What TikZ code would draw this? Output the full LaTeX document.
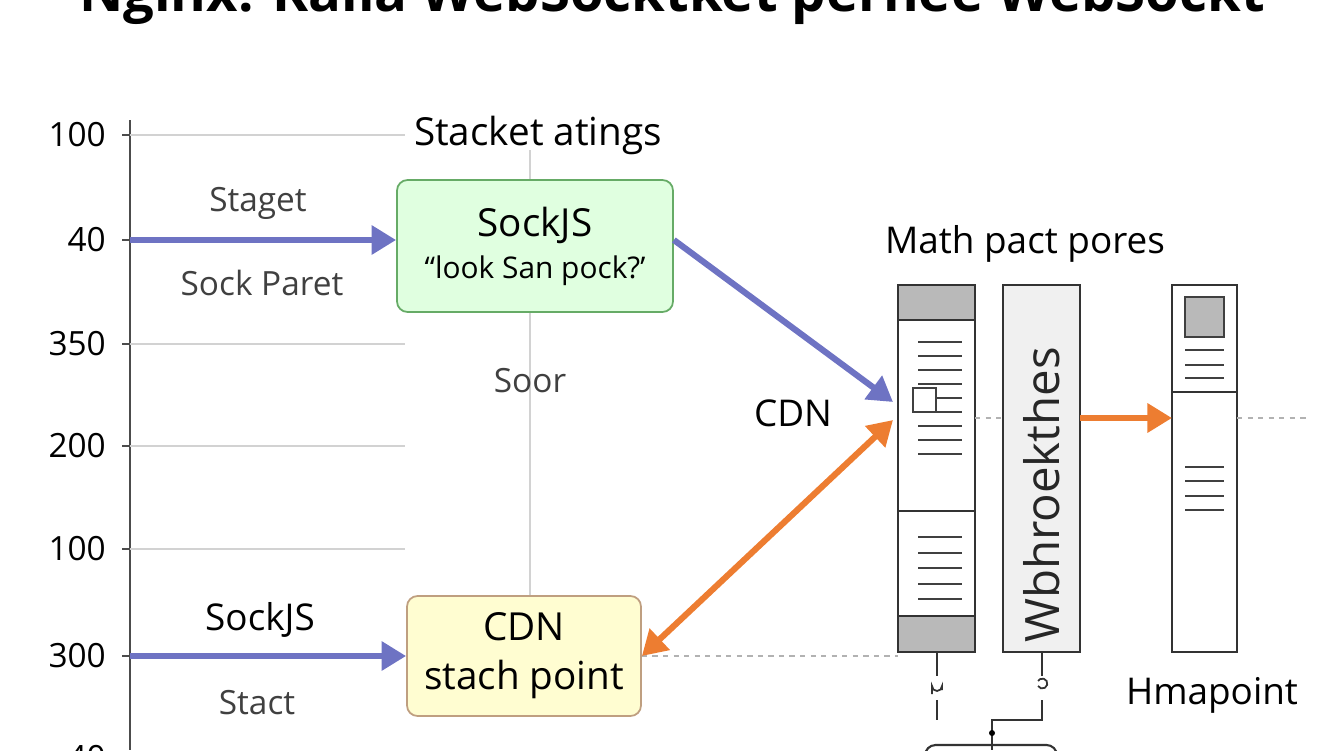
\documentclass[tikz,border=0pt]{standalone}
\usepackage{fontspec}
\setmainfont{Open Sans}
\usetikzlibrary{arrows.meta}
\definecolor{arrblue}{RGB}{110,115,195}
\definecolor{arrorange}{RGB}{237,125,49}
\begin{document}
\begin{tikzpicture}[x=0.02cm,y=-0.02cm,
	grid/.style={gray!35, line width=0.8pt},
	lbl/.style={font=\fontsize{19}{22}\selectfont, text=black!75},
	tick/.style={font=\fontsize{19}{22}\selectfont, anchor=east},
	blue arrow/.style={arrblue, line width=3.5pt, -{Triangle[length=14pt,width=16pt]}},
	orange arrow/.style={arrorange, line width=3.5pt, -{Triangle[length=14pt,width=16pt]}},
	txtline/.style={black!75, line width=1pt},
	col/.style={draw=black!80, line width=1.2pt}]
	\useasboundingbox (0,0) rectangle (1344,750);
	\clip (0,0) rectangle (1344,750);
	
	% Title
	\node[font=\fontsize{31}{36}\selectfont\bfseries, anchor=base] (title) at (672,12) {Nginx: Kalla WebSocktket pernee WebSockt};
	
	% Axis and grid
	\draw[black!70, line width=1pt] (130,120) -- (130,750);
	\foreach \yy/\val in {135/100, 240/40, 344/350, 446/200, 549/100, 656/300, 758/40} {
		\node[tick] at (112,\yy) {\val};
		\draw[black!70, line width=1pt] (122,\yy) -- (130,\yy);
	}
	\foreach \yy in {135, 344, 446, 549} \draw[grid] (130,\yy) -- (405,\yy);
	\draw[grid] (530,150) -- (530,600);
	
	% Labels
	\node[font=\fontsize{22}{26}\selectfont] (head) at (538,135) {Stacket atings};
	\node[lbl] (staget) at (258,203) {Staget};
	\node[lbl] (sockparet) at (262,283) {Sock Paret};
	\node[lbl] (soor) at (530,381) {Soor};
	\node[font=\fontsize{21}{25}\selectfont] (sockjs) at (260,620) {SockJS};
	\node[lbl] (stact) at (257,703) {Stact};
	\node[font=\fontsize{21}{25}\selectfont] (cdn) at (793,413) {CDN};
	\node[font=\fontsize{21}{25}\selectfont] (math) at (1025,244) {Math pact pores};
	\node[font=\fontsize{21}{25}\selectfont] (hmap) at (1212,695) {Hmapoint};
	
	% Boxes
	\node[draw=green!45!black!60, fill=green!12, rounded corners=6pt, line width=1pt,
		minimum width=276*0.02cm, minimum height=132*0.02cm, align=center,
		font=\fontsize{22}{26}\selectfont] (sock) at (535,246)
		{SockJS\\[-2pt]{\fontsize{17}{20}\selectfont “look San pock?’}};
	\node[draw=orange!50!black!50, fill=yellow!18, rounded corners=6pt, line width=1pt,
		minimum width=234*0.02cm, minimum height=120*0.02cm, align=center,
		font=\fontsize{22}{28}\selectfont] (cdnbox) at (524,656) {CDN\\stach point};
	
	% Columns
	\draw[col, fill=white] (898,285) rectangle (975,652);
	\fill[gray!55] (898,285) rectangle (975,320);
	\fill[gray!55] (898,616) rectangle (975,652);
	\draw[col] (898,285) rectangle (975,652);
	\draw[col] (898,320) -- (975,320) (898,511) -- (975,511) (898,616) -- (975,616);
	\foreach \yy in {342,356,370,384,398,412,426,440,454} \draw[txtline] (918,\yy) -- (962,\yy);
	\foreach \yy in {537,553,568,584,599} \draw[txtline] (918,\yy) -- (962,\yy);
	\draw[txtline, fill=white] (913,388) rectangle (936,412);
	\node[col, fill=gray!12, minimum width=77*0.02cm, minimum height=367*0.02cm, inner sep=0pt] (mid) at (1041.5,468.5) {};
	\node[rotate=90, font=\fontsize{27}{30}\selectfont, text=black!85] at (1042,495) {Wbhroekthes};
	\draw[col, fill=white] (1172,285) rectangle (1237,652);
	\draw[col] (1172,392) -- (1237,392);
	\draw[txtline, fill=gray!55] (1185,297) rectangle (1224,337);
	\foreach \yy in {350,365,378,467,481,496,510} \draw[txtline] (1185,\yy) -- (1224,\yy);
	\coordinate (c1) at (893,402);
	\coordinate (c1b) at (893,420);
	\coordinate (c3) at (1172,418);
	\coordinate (c2) at (1080,418);
	
	% Dashed guides
	\draw[gray!60, dashed, line width=1pt] (cdnbox.east) -- (898,656);
	\draw[gray!60, dashed, line width=1pt] (975,418) -- (1003,418);
	\draw[gray!60, dashed, line width=1pt] (1237,418) -- (1310,418);
	
	% Arrows
	\coordinate (a1) at (130,240);
	\coordinate (a2) at (130,656);
	\draw[blue arrow] (a1) -- (sock.west|-a1);
	\draw[blue arrow] (a2) -- (cdnbox.west);
	\draw[blue arrow] (sock.east|-a1) -- (c1);
	\draw[orange arrow, {Triangle[length=14pt,width=16pt]}-{Triangle[length=14pt,width=16pt]}] (cdnbox.east) -- (c1b);
	\draw[orange arrow] (c2) -- (c3);
	
	% Connectors below
	\draw[black!80, line width=1.2pt] (937,652) -- (937,676) (937,700) -- (937,720);
	\draw[black!80, line width=1pt] (932,694) -- (932,686) arc (180:0:5) -- (942,690);
	\draw[black!80, line width=1.2pt] (1042,652) -- (1042,676);
	\draw[black!80, line width=1pt] (1038,686) arc (150:-150:5);
	\draw[black!80, line width=1.2pt] (1042,700) -- (1042,720) -- (992,720) -- (992,750);
	\fill (992,733) circle (3);
	\draw[black!80, line width=1.2pt, rounded corners=6pt] (925,760) -- (925,745) -- (1057,745) -- (1057,760);
\end{tikzpicture}
\end{document}
